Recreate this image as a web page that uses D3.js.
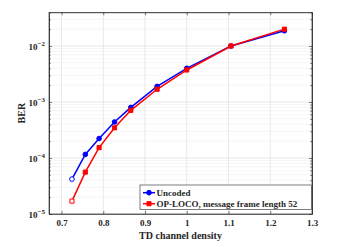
<!DOCTYPE html>
<html>
<head>
<meta charset="utf-8">
<script src="https://cdn.jsdelivr.net/npm/d3@7"></script>
<style>
  body { margin: 0; background: #fff; }
  text { font-family: "Liberation Serif", "Times New Roman", serif; font-weight: bold; fill: #262626; }
</style>
</head>
<body>
<div id="chart"></div>
<script>
// data
var density = [0.725, 0.757, 0.79, 0.827, 0.866, 0.929, 1.0, 1.106, 1.234];
var berUncoded = [4.2e-5, 1.16e-4, 2.23e-4, 4.4e-4, 8.0e-4, 1.9e-3, 4.0e-3, 1.0e-2, 1.87e-2];
var berOPLOCO = [1.7e-5, 5.6e-5, 1.53e-4, 3.46e-4, 7.1e-4, 1.69e-3, 3.73e-3, 1.0e-2, 2.0e-2];
var xTicks = [0.7, 0.8, 0.9, 1, 1.1, 1.2, 1.3];
var yDecades = [-5, -4, -3, -2];
var legendNames = ["Uncoded", "OP-LOCO, message frame length 52"];

var W = 349, H = 247;
var margin = { top: 12.3, right: 37, bottom: 33, left: 49 };
var w = W - margin.left - margin.right;
var h = H - margin.top - margin.bottom;

var svg = d3.select('#chart').append('svg')
    .attr('width', W)
    .attr('height', H);

var g = svg.append('g')
    .attr('transform', 'translate(' + margin.left + ',' + margin.top + ')');

var x = d3.scaleLinear().domain([0.67, 1.3]).range([0, w]);
var y = d3.scaleLog().domain([1e-5, 4e-2]).range([h, 0]);

// minor grid (log)
var minor = [];
yDecades.forEach(function (e) {
    for (var k = 2; k <= 9; k++) {
        var v = k * Math.pow(10, e);
        if (v <= 4e-2) minor.push(v);
    }
});
g.selectAll('.ymin').data(minor).enter().append('line')
    .attr('x1', 0).attr('x2', w)
    .attr('y1', d => y(d)).attr('y2', d => y(d))
    .attr('stroke', '#f0f0f0').attr('stroke-width', 0.7);

// major grid
g.selectAll('.xg').data(xTicks).enter().append('line')
    .attr('x1', d => x(d)).attr('x2', d => x(d))
    .attr('y1', 0).attr('y2', h)
    .attr('stroke', '#e3e3e3').attr('stroke-width', 0.8);
g.selectAll('.yg').data(yDecades).enter().append('line')
    .attr('x1', 0).attr('x2', w)
    .attr('y1', d => y(Math.pow(10, d))).attr('y2', d => y(Math.pow(10, d)))
    .attr('stroke', '#e3e3e3').attr('stroke-width', 0.8);

// axes, MATLAB style: ticks pointing in, box on
var xAxis = d3.axisBottom(x).tickValues(xTicks).tickSizeInner(-3).tickSizeOuter(0)
    .tickFormat(d3.format('~g')).tickPadding(6);
var gx = g.append('g').attr('transform', 'translate(0,' + h + ')').call(xAxis);
gx.selectAll('text').attr('font-size', 9).attr('fill', '#262626')
    .style('font-family', '"Liberation Serif", serif').style('font-weight', 'bold');
g.append('g').call(d3.axisTop(x).tickValues(xTicks).tickSizeInner(-3).tickSizeOuter(0).tickFormat(''));

var yMajor = yDecades.map(d => Math.pow(10, d));
var gy = g.append('g').call(d3.axisLeft(y).tickValues(yMajor).tickSizeInner(-3).tickSizeOuter(0).tickFormat(''));
g.append('g').attr('transform', 'translate(' + w + ',0)')
    .call(d3.axisRight(y).tickValues(yMajor).tickSizeInner(-3).tickSizeOuter(0).tickFormat(''));
g.append('g').call(d3.axisLeft(y).tickValues(minor).tickSizeInner(-1.8).tickSizeOuter(0).tickFormat(''));
g.append('g').attr('transform', 'translate(' + w + ',0)')
    .call(d3.axisRight(y).tickValues(minor).tickSizeInner(-1.8).tickSizeOuter(0).tickFormat(''));
g.selectAll('.domain').attr('stroke', '#262626').attr('stroke-width', 0.6);
g.selectAll('.tick line').attr('stroke', '#262626').attr('stroke-width', 0.6);

g.append('rect').attr('width', w).attr('height', h)
    .attr('fill', 'none').attr('stroke', '#262626').attr('stroke-width', 0.6);

// y tick labels with superscript exponents
var yl = g.selectAll('.ylab').data(yDecades).enter().append('text')
    .attr('x', -4).attr('y', d => y(Math.pow(10, d)) + 4)
    .attr('text-anchor', 'end').attr('font-size', 9);
yl.append('tspan').text('10');
yl.append('tspan').attr('dy', -4).attr('font-size', 7).text(d => '\u2212' + Math.abs(d));

// series
var series = [
    { name: legendNames[0], vals: berUncoded, color: '#0000ff', marker: 'circle' },
    { name: legendNames[1], vals: berOPLOCO, color: '#ff0000', marker: 'square' }
];
var line = d3.line().x(d => x(d[0])).y(d => y(d[1]));

series.forEach(function (s) {
    var pts = density.map((d, i) => [d, s.vals[i]]);
    g.append('path').datum(pts)
        .attr('d', line).attr('fill', 'none')
        .attr('stroke', s.color).attr('stroke-width', 1.5);
    var sym = d3.symbol().type(s.marker === 'circle' ? d3.symbolCircle : d3.symbolSquare)
        .size(s.marker === 'circle' ? 17 : 17);
    g.selectAll('.m' + s.marker).data(pts).enter().append('path')
        .attr('d', sym)
        .attr('transform', d => 'translate(' + x(d[0]) + ',' + y(d[1]) + ')')
        .attr('fill', (d, i) => i === 0 ? '#fff' : s.color)
        .attr('stroke', s.color).attr('stroke-width', 1);
});

// legend
var lg = svg.append('g').attr('transform', 'translate(140,185)');
lg.append('rect').attr('width', 171.5).attr('height', 24.3)
    .attr('fill', '#fff').attr('stroke', '#262626').attr('stroke-width', 0.6);
series.forEach(function (s, i) {
    var yy = 7.7 + i * 11;
    lg.append('line').attr('x1', 3).attr('x2', 15).attr('y1', yy).attr('y2', yy)
        .attr('stroke', s.color).attr('stroke-width', 1.5);
    lg.append('path')
        .attr('d', d3.symbol().type(s.marker === 'circle' ? d3.symbolCircle : d3.symbolSquare).size(17))
        .attr('transform', 'translate(9,' + yy + ')')
        .attr('fill', s.color).attr('stroke', s.color);
    lg.append('text').attr('x', 16.5).attr('y', yy + 3).attr('font-size', 9).text(s.name);
});

// axis titles
svg.append('text')
    .attr('x', margin.left + w / 2).attr('y', 239)
    .attr('text-anchor', 'middle').attr('font-size', 10)
    .text('TD channel density');
svg.append('text')
    .attr('transform', 'translate(25,' + (margin.top + h / 2) + ') rotate(-90)')
    .attr('text-anchor', 'middle').attr('font-size', 10)
    .text('BER');
</script>
</body>
</html>
